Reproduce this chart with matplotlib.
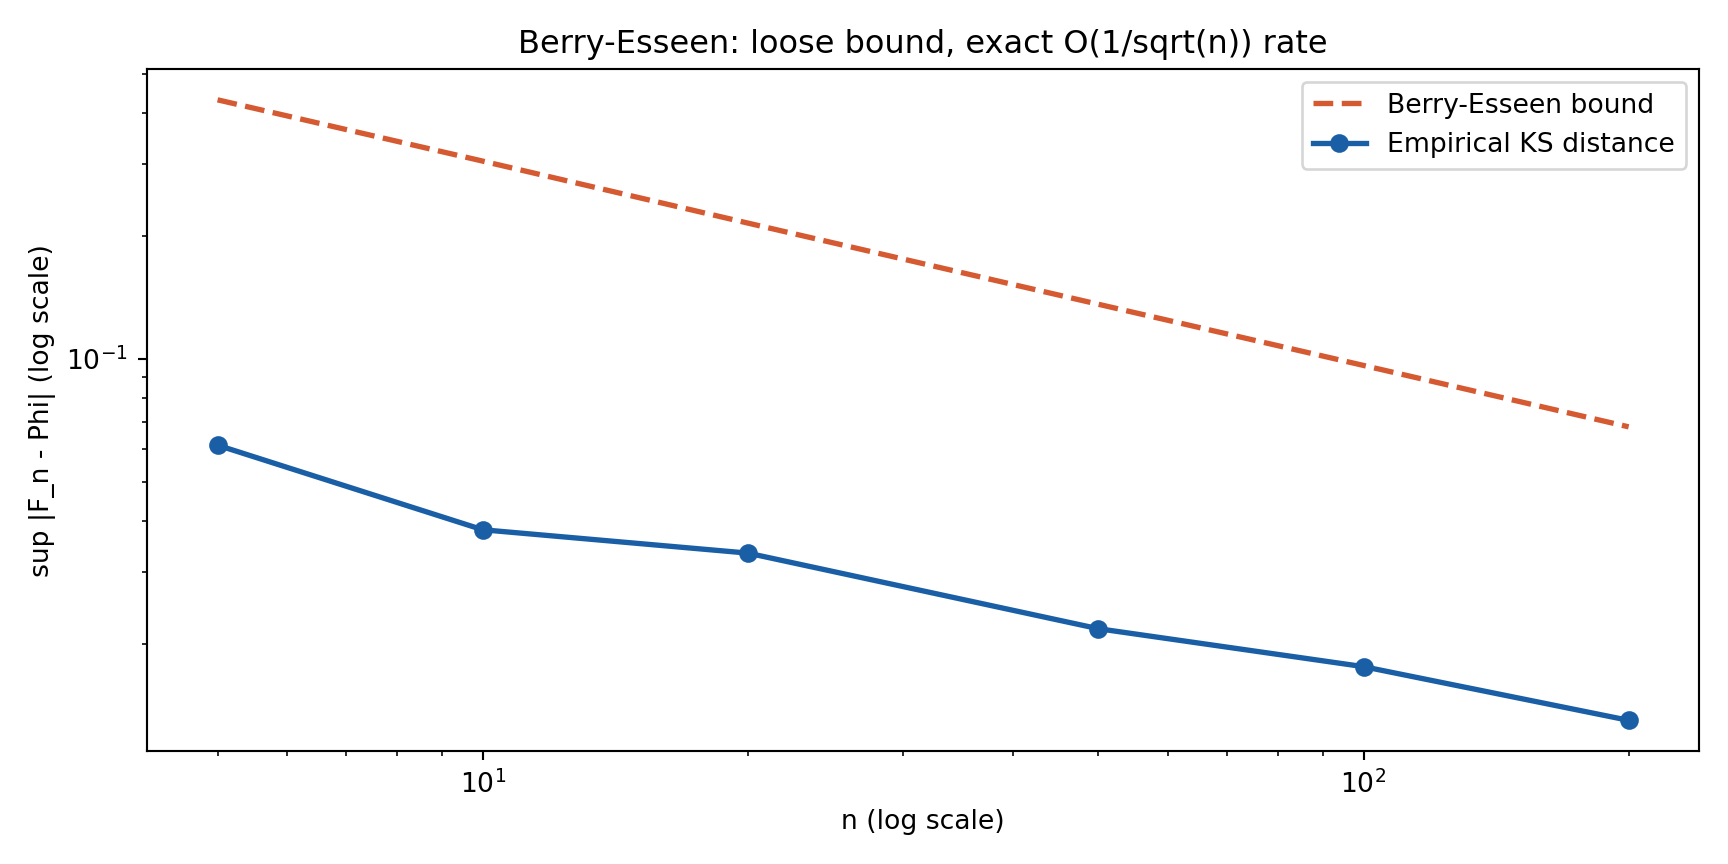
import matplotlib
matplotlib.use("Agg")
import matplotlib.pyplot as plt

n_values = [5, 10, 20, 50, 100, 200]
bound_values = [0.431, 0.305, 0.215, 0.136, 0.0963, 0.0681]
empirical_values = [0.0614, 0.0381, 0.0334, 0.0218, 0.0176, 0.0130]

fig, ax = plt.subplots(figsize=(9, 4.5), dpi=192)
ax.plot(n_values, bound_values, linestyle="--", color="#d65a31", lw=2, label="Berry-Esseen bound")
ax.plot(n_values, empirical_values, marker="o", color="#1a5fa6", lw=2, ms=6, label="Empirical KS distance")
ax.set_xscale("log")
ax.set_yscale("log")
ax.set_xlabel("n (log scale)")
ax.set_ylabel("sup |F_n - Phi| (log scale)")
ax.set_title("Berry-Esseen: loose bound, exact O(1/sqrt(n)) rate")
ax.legend(loc="upper right")
fig.tight_layout()
fig.savefig("out.png", dpi=192)
